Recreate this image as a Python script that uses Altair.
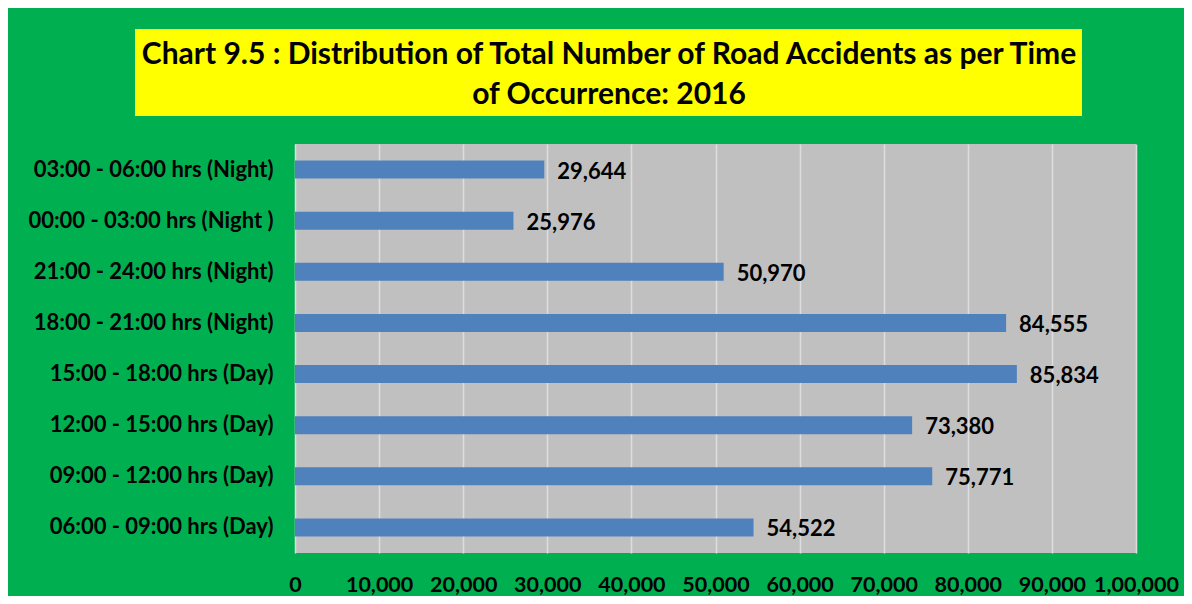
import altair as alt
import pandas as pd

periods = [
    "03:00 - 06:00 hrs (Night)",
    "00:00 - 03:00 hrs (Night )",
    "21:00 - 24:00 hrs (Night)",
    "18:00 - 21:00 hrs (Night)",
    "15:00 - 18:00 hrs (Day)",
    "12:00 - 15:00 hrs (Day)",
    "09:00 - 12:00 hrs (Day)",
    "06:00 - 09:00 hrs (Day)",
]
accidents = [29644, 25976, 50970, 84555, 85834, 73380, 75771, 54522]

tick_values = [0, 10000, 20000, 30000, 40000, 50000, 60000, 70000, 80000, 90000, 100000]
tick_labels = ["0", "10,000", "20,000", "30,000", "40,000", "50,000", "60,000",
               "70,000", "80,000", "90,000", "1,00,000"]

title_lines = ["Chart 9.5 : Distribution of Total Number of Road Accidents as per Time",
               "of Occurrence: 2016"]

FONT = "Lato"
GREEN = "#00B050"

df = pd.DataFrame({"period": periods, "accidents": accidents})

label_map = "{" + ",".join(f"'{v}':'{l}'" for v, l in zip(tick_values, tick_labels)) + "}"

x_enc = alt.X(
    "accidents:Q",
    scale=alt.Scale(domain=[0, 100000], nice=False),
    axis=alt.Axis(
        values=tick_values,
        labelExpr=f"{label_map}[toString(datum.value)]",
        title=None,
        grid=True,
        gridColor="#DDDDDD",
        gridWidth=1.5,
        ticks=False,
        domain=False,
        labelFont=FONT,
        labelFontSize=21.5,
        labelFontWeight="bold",
        labelColor="#000000",
        labelPadding=21,
        labelFlush=False,
    ),
)
y_enc = alt.Y(
    "period:N",
    sort=periods,
    scale=alt.Scale(paddingInner=0.65, paddingOuter=0.325),
    axis=alt.Axis(
        title=None,
        ticks=False,
        domain=False,
        grid=False,
        labelFont=FONT,
        labelFontSize=22,
        labelFontWeight="bold",
        labelColor="#000000",
        labelPadding=22,
        labelLimit=400,
    ),
)

base = alt.Chart(df)

bars = base.mark_bar(color="#4F81BD").encode(x=x_enc, y=y_enc)

labels = base.mark_text(
    align="left", baseline="middle", dx=13, dy=2,
    font=FONT, fontSize=22, fontWeight="bold", color="#000000",
).encode(
    x="accidents:Q",
    y=alt.Y("period:N", sort=periods),
    text=alt.Text("accidents:Q", format=","),
)

deco = pd.DataFrame({"k": [0]})
title_box = alt.Chart(deco).mark_rect(color="#FFFF00").encode(
    x=alt.value(-160), x2=alt.value(787), y=alt.value(-115), y2=alt.value(-28)
)
title_text = alt.Chart(deco).mark_text(
    align="center", baseline="middle", lineHeight=40,
    font=FONT, fontSize=30, fontWeight="bold", color="#000000",
).encode(x=alt.value(314), y=alt.value(-89), text=alt.value(title_lines))

chart = alt.layer(title_box, title_text, bars, labels).properties(
    width=841,
    height=409,
    background=GREEN,
    padding={"left": 287, "top": 136, "right": 48, "bottom": 43},
    autosize=alt.AutoSizeParams(type="none"),
).configure_view(fill="#C0C0C0", stroke=None)

chart.save("out.html", embed_options={"renderer": "svg", "actions": False})
